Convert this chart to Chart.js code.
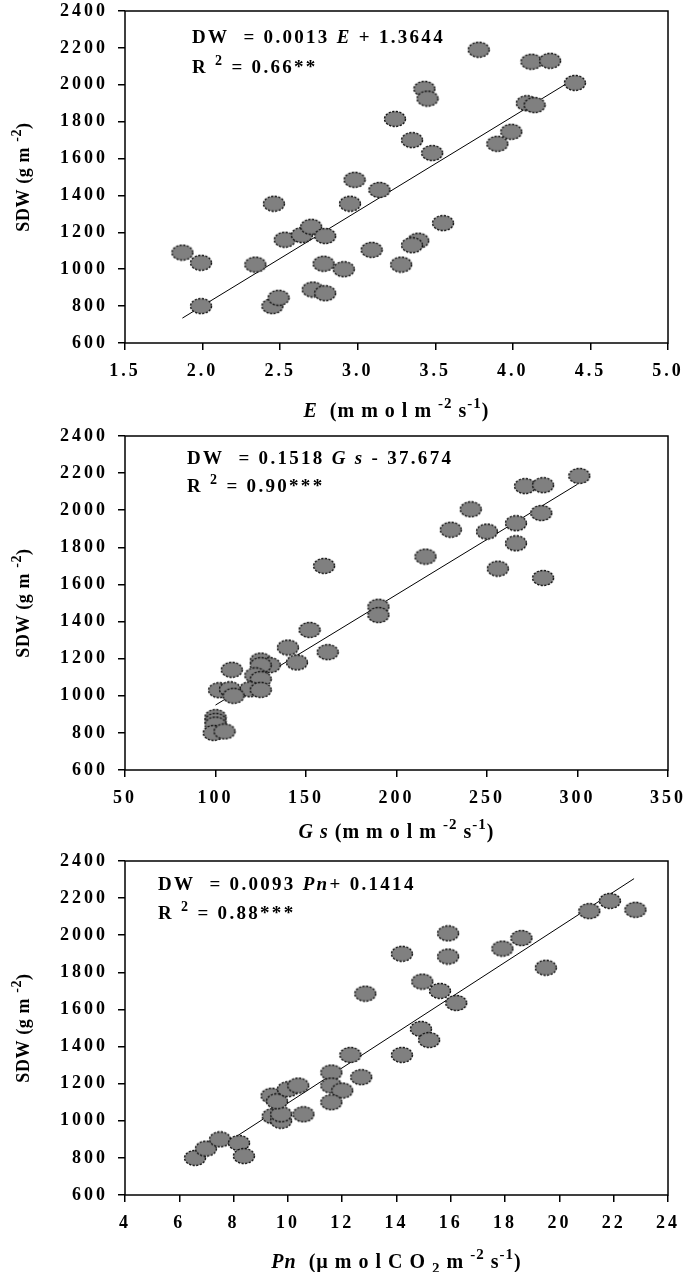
<!DOCTYPE html>
<html>
<head>
<meta charset="utf-8">
<script src="https://cdn.jsdelivr.net/npm/chart.js@4.4.1/dist/chart.umd.min.js"></script>
<style>
  body { margin: 0; background: #fff; }
  canvas { display: block; }
</style>
</head>
<body>
<canvas id="panelE" width="685" height="425"></canvas>
<canvas id="panelGs" width="685" height="425"></canvas>
<canvas id="panelPn" width="685" height="422"></canvas>
<script>
// tick values
const sdwTicks = [600, 800, 1000, 1200, 1400, 1600, 1800, 2000, 2200, 2400];
const eTicks = [1.5, 2.0, 2.5, 3.0, 3.5, 4.0, 4.5, 5.0];
const gsTicks = [50, 100, 150, 200, 250, 300, 350];
const pnTicks = [4, 6, 8, 10, 12, 14, 16, 18, 20, 22, 24];

// panel 1 : E vs SDW
const eX = [1.87, 1.99, 1.99, 2.34, 2.46, 2.45, 2.49, 2.53, 2.64, 2.70, 2.71, 2.79, 2.78, 2.79, 2.91, 2.95, 2.98, 3.09,
  3.14, 3.24, 3.28, 3.78, 4.12, 4.24, 4.40, 3.43, 3.45, 3.35, 3.48, 4.09, 4.14, 3.99, 3.90, 3.55, 3.39, 3.35];
const eY = [1090, 1035, 800, 1025, 1355, 800, 845, 1160, 1185, 1230, 890, 1180, 1030, 870, 1000, 1355, 1485, 1105,
  1430, 1815, 1025, 2190, 2125, 2130, 2010, 1978, 1925, 1700, 1630, 1900, 1890, 1745, 1680, 1250, 1155, 1130];
const eFitX = [1.87, 4.35];
const eFitY = [735, 2008];

// panel 2 : Gs vs SDW
const gsX = [160, 190, 190, 152, 140, 162, 145, 125, 130, 125, 122, 125, 119, 125, 109, 102, 108, 110, 100, 100, 100,
  99, 105, 301, 271, 281, 280, 241, 230, 250, 266, 266, 216, 256, 281];
const gsY = [1700, 1480, 1435, 1355, 1260, 1235, 1180, 1190, 1165, 1165, 1110, 1090, 1035, 1032, 1140, 1030, 1035, 1000,
  885, 865, 845, 800, 808, 2185, 2130, 2135, 1985, 2005, 1895, 1885, 1930, 1822, 1750, 1685, 1635];
const gsFitX = [100, 300];
const gsFitY = [950, 2140];

// panel 3 : Pn vs SDW
const pnX = [6.58, 6.98, 7.5, 8.2, 8.38, 9.44, 9.75, 9.75, 10.57, 9.4, 9.6, 10.0, 10.38, 11.6, 11.6, 12.0, 11.6, 12.3,
  12.7, 12.85, 14.2, 14.2, 15.9, 15.9, 14.95, 15.6, 16.2, 14.9, 15.2, 17.9, 18.6, 19.5, 21.1, 21.86, 22.8];
const pnY = [800, 850, 900, 880, 810, 1025, 1000, 1035, 1035, 1135, 1105, 1170, 1190, 1260, 1190, 1163, 1100, 1355,
  1235, 1685, 1900, 1355, 2010, 1885, 1750, 1700, 1635, 1495, 1435, 1928, 1985, 1825, 2130, 2185, 2137];
const pnFitX = [8.15, 22.75];
const pnFitY = [920, 2305];

const SERIF = '"Liberation Serif", "Times New Roman", serif';

// grey ellipse with dashed outline
function makeMarker() {
  const c = document.createElement('canvas');
  c.width = 24; c.height = 18;
  const g = c.getContext('2d');
  g.beginPath();
  g.ellipse(12, 9, 10.5, 7.5, 0, 0, Math.PI * 2);
  g.fillStyle = '#808080';
  g.fill();
  g.setLineDash([2.2, 1.4]);
  g.lineWidth = 1.4;
  g.strokeStyle = '#111';
  g.stroke();
  return c;
}
const marker = makeMarker();

// text with italic / superscript / subscript pieces
function drawParts(ctx, parts, x, y, size, ls, align) {
  const fontOf = p => (p.i ? 'italic ' : '') + 'bold ' + Math.round(size * (p.sup || p.sub ? 0.75 : 1)) + 'px ' + SERIF;
  ctx.letterSpacing = ls + 'px';
  let w = 0;
  parts.forEach(p => { ctx.font = fontOf(p); p.w = ctx.measureText(p.t).width; w += p.w; });
  let cx = align === 'center' ? x - w / 2 : x;
  ctx.textAlign = 'left';
  ctx.textBaseline = 'alphabetic';
  ctx.fillStyle = '#000';
  parts.forEach(p => {
    ctx.font = fontOf(p);
    const dy = p.sup ? -size * 0.42 : (p.sub ? size * 0.25 : 0);
    ctx.fillText(p.t, cx, y + dy);
    cx += p.w;
  });
}

const decor = {
  id: 'decor',
  beforeDraw(chart) {
    chart.ctx.letterSpacing = '3px';
  },
  afterDraw(chart, args, o) {
    const ctx = chart.ctx;
    const a = chart.chartArea;
    ctx.save();
    ctx.setLineDash([]);
    ctx.strokeStyle = '#000';
    ctx.lineWidth = 1.5;
    ctx.strokeRect(a.left, a.top, a.right - a.left, a.bottom - a.top);
    // equation
    drawParts(ctx, o.eq1, o.noteX, o.noteY1 + 6, 19, 2.3, 'left');
    drawParts(ctx, o.eq2, o.noteX, o.noteY2 + 6, 19, 2.3, 'left');
    // x title
    drawParts(ctx, o.xTitle, (a.left + a.right) / 2, o.xTitleY + 6.5, 20, 1, 'center');
    // y title
    ctx.translate(23, (a.top + a.bottom) / 2);
    ctx.rotate(-Math.PI / 2);
    drawParts(ctx, [{ t: 'SDW (g m ' }, { t: '-2', sup: true }, { t: ')' }], 0, 6, 18, 0.6, 'center');
    ctx.restore();
  }
};

function makePanel(id, xs, ys, fx, fy, xTicks, xFmt, xAxisH, note) {
  const pts = xs.map((x, i) => ({ x: x, y: ys[i] }));
  const fit = fx.map((x, i) => ({ x: x, y: fy[i] }));
  const tickFont = { family: SERIF, weight: 'bold', size: 18, lineHeight: 1 };
  const grid = { display: true, drawOnChartArea: false, drawTicks: true, tickLength: 7, color: '#000', lineWidth: 1.5 };
  new Chart(document.getElementById(id), {
    type: 'scatter',
    data: {
      datasets: [
        { data: pts, pointStyle: marker, pointRadius: 10, order: 0 },
        { data: fit, showLine: true, pointRadius: 0, borderColor: '#000', borderWidth: 1, order: 1 }
      ]
    },
    options: {
      responsive: false,
      animation: false,
      events: [],
      layout: { padding: { top: 9, right: 17, left: 0, bottom: 0 } },
      plugins: { legend: { display: false }, tooltip: { enabled: false }, decor: note },
      scales: {
        x: {
          type: 'linear',
          min: xTicks[0],
          max: xTicks[xTicks.length - 1],
          afterBuildTicks: s => { s.ticks = xTicks.map(v => ({ value: v })); },
          afterFit: s => { s.height = xAxisH; s.paddingLeft = 0; s.paddingRight = 0; },
          grid: grid,
          border: { display: false },
          ticks: { font: tickFont, color: '#000', padding: 12, maxRotation: 0, autoSkip: false, callback: xFmt }
        },
        y: {
          type: 'linear',
          min: sdwTicks[0],
          max: sdwTicks[sdwTicks.length - 1],
          afterBuildTicks: s => { s.ticks = sdwTicks.map(v => ({ value: v })); },
          afterFit: s => { s.width = 125; s.paddingTop = 0; s.paddingBottom = 0; },
          grid: grid,
          border: { display: false },
          ticks: { font: tickFont, color: '#000', padding: 10, autoSkip: false, callback: v => String(v) }
        }
      }
    },
    plugins: [decor]
  });
}

makePanel('panelE', eX, eY, eFitX, eFitY, eTicks, v => v.toFixed(1), 82, {
  noteX: 192, noteY1: 37, noteY2: 67, xTitleY: 410,
  eq1: [{ t: 'DW  = 0.0013 ' }, { t: 'E', i: true }, { t: ' + 1.3644' }],
  eq2: [{ t: 'R ' }, { t: '2', sup: true }, { t: ' = 0.66**' }],
  xTitle: [{ t: 'E', i: true }, { t: '  (m m o l m ' }, { t: '-2', sup: true }, { t: ' s' }, { t: '-1', sup: true }, { t: ')' }]
});

makePanel('panelGs', gsX, gsY, gsFitX, gsFitY, gsTicks, v => String(v), 80, {
  noteX: 187, noteY1: 33, noteY2: 61, xTitleY: 406,
  eq1: [{ t: 'DW  = 0.1518 ' }, { t: 'G s', i: true }, { t: ' - 37.674' }],
  eq2: [{ t: 'R ' }, { t: '2', sup: true }, { t: ' = 0.90***' }],
  xTitle: [{ t: 'G s', i: true }, { t: ' (m m o l m ' }, { t: '-2', sup: true }, { t: ' s' }, { t: '-1', sup: true }, { t: ')' }]
});

makePanel('panelPn', pnX, pnY, pnFitX, pnFitY, pnTicks, v => String(v), 77, {
  noteX: 158, noteY1: 34, noteY2: 63, xTitleY: 411,
  eq1: [{ t: 'DW  = 0.0093 ' }, { t: 'Pn', i: true }, { t: '+ 0.1414' }],
  eq2: [{ t: 'R ' }, { t: '2', sup: true }, { t: ' = 0.88***' }],
  xTitle: [{ t: 'Pn', i: true }, { t: '  (\u00b5 m o l C O ' }, { t: '2', sub: true }, { t: ' m ' }, { t: '-2', sup: true }, { t: ' s' }, { t: '-1', sup: true }, { t: ')' }]
});
</script>
</body>
</html>
